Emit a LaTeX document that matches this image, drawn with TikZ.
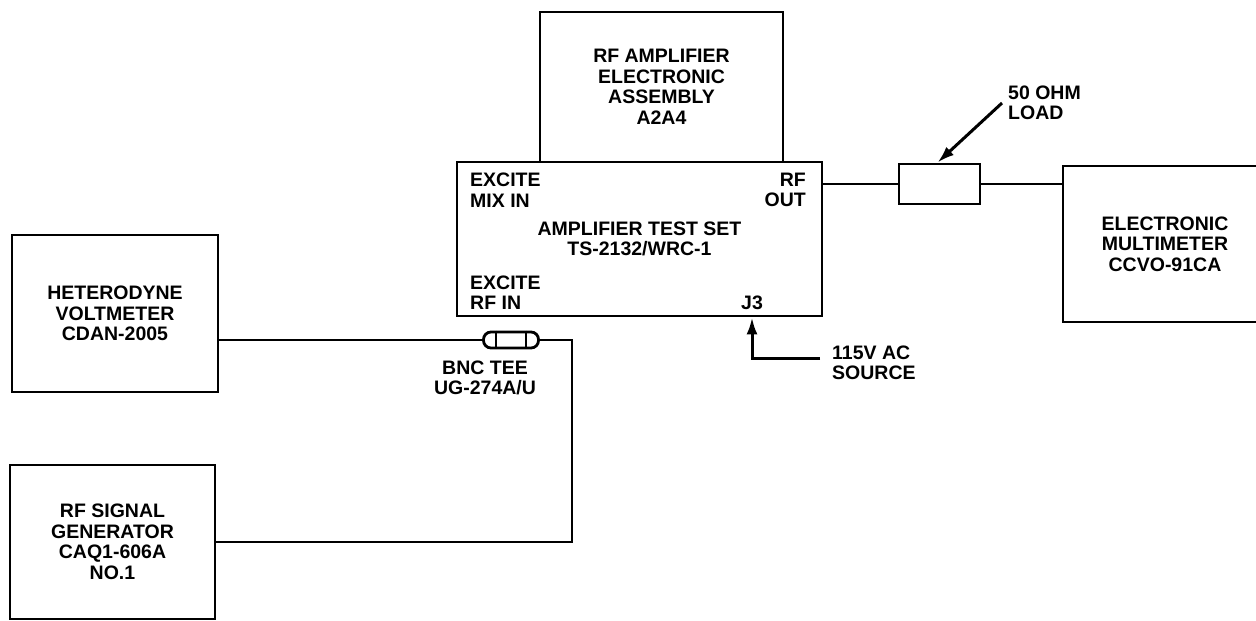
\documentclass[tikz,border=0pt]{standalone}
\usepackage{fontspec}
\setmainfont{Liberation Sans}
\usetikzlibrary{arrows.meta,calc}
\begin{document}
\begin{tikzpicture}[x=1pt,y=-1pt,
  lbl/.style={font=\fontsize{19.5}{20.5}\selectfont\bfseries, inner sep=0pt},
  unit/.style={draw, line width=2.8pt, rectangle, inner sep=0pt, align=center,
    font=\fontsize{19.5}{20.5}\selectfont\bfseries},
  wire/.style={line width=2.8pt},
  arr/.style={line width=3pt, -{Latex[length=17pt,width=11pt]}}
]
\useasboundingbox (0,0) rectangle (1256,621);

% units
\node[unit, minimum width=243pt, minimum height=150pt] (amp) at (661.5,87)
  {RF AMPLIFIER\\ELECTRONIC\\ASSEMBLY\\A2A4};
\node[unit, minimum width=365pt, minimum height=154pt] (ts) at (639.5,239)
  {AMPLIFIER TEST SET\\TS-2132/WRC-1};
\node[unit, minimum width=206pt, minimum height=157pt] (het) at (115,313.5)
  {HETERODYNE\\VOLTMETER\\CDAN-2005};
\node[unit, minimum width=205pt, minimum height=154pt] (sig) at (112.5,542)
  {RF SIGNAL\\GENERATOR\\CAQ1-606A\\NO.1};
\node[unit, minimum width=204pt, minimum height=156pt] (mm) at (1165,244)
  {ELECTRONIC\\MULTIMETER\\CCVO-91CA};
\node[unit, minimum width=81pt, minimum height=40pt] (load) at (939.5,184) {};

% labels on the test set
\node[lbl, anchor=west, align=left] (mixin) at (470,190) {EXCITE\\MIX IN};
\node[lbl, anchor=east, align=right] (rfout) at (806,190) {RF\\OUT};
\node[lbl, anchor=west, align=left] (rfin) at (470,292.5) {EXCITE\\RF IN};
\node[lbl] (j3) at (752,303) {J3};

% other labels
\node[lbl, anchor=west, align=left] (ohm) at (1008,103) {50 OHM\\LOAD};
\node[lbl, anchor=west, align=left] (ac) at (832,363) {115V AC\\SOURCE};
\node[lbl, align=center] (teelbl) at (485,378) {BNC TEE\\UG-274A/U};

% BNC tee
\node[draw, line width=2.8pt, rounded corners=7.5pt, minimum width=55pt,
  minimum height=16pt, inner sep=0pt] (tee) at (511,340) {};
\draw[wire] ($(tee.north)+(-15,0)$) -- ($(tee.south)+(-15,0)$);
\draw[wire] ($(tee.north)+(15,0)$) -- ($(tee.south)+(15,0)$);
\draw[wire] ($(tee.north)+(-6,0)$) -- ($(tee.north)+(-6,0)$ |- ts.south);
\draw[wire] ($(tee.north)+(8,0)$) -- ($(tee.north)+(8,0)$ |- ts.south);

% connections
\coordinate (bend) at (572,542);
\draw[wire] (tee.west) -- (tee.west -| het.east);
\draw[wire] (tee.east) -| (bend) -- (sig.east);
\draw[wire] (load.west -| ts.east) -- (load.west);
\draw[wire] (load.east) -- (load.east -| mm.west);

% arrows
\coordinate (ohmtail) at (1002,103);
\draw[arr] (ohmtail) -- ($(load.north)+(-2,0)$);
\coordinate (actail) at (820,358);
\draw[arr] (actail) -| (ts.south -| j3);
\end{tikzpicture}
\end{document}
